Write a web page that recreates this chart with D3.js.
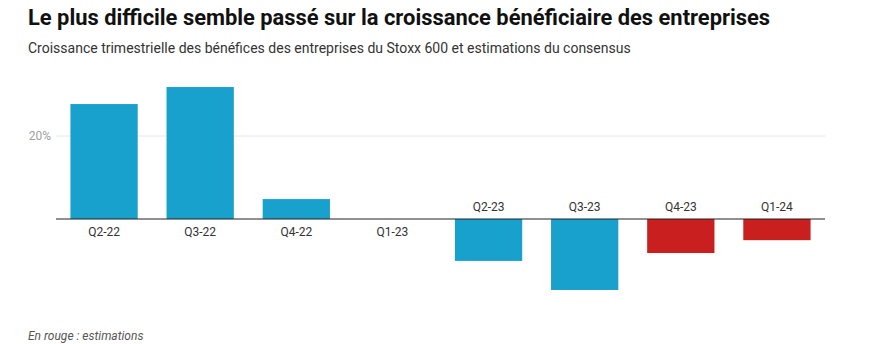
<!DOCTYPE html>
<html><head><meta charset="utf-8">
<script src="https://cdn.jsdelivr.net/npm/d3@7"></script>
<style>
body{margin:0;background:#fff;font-family:Roboto,sans-serif;}
</style></head><body>
<svg id="c" width="874" height="344"></svg>
<script>
const categories = ["Q2-22","Q3-22","Q4-22","Q1-23","Q2-23","Q3-23","Q4-23","Q1-24"];
const values = [27.7, 31.8, 4.8, 0, -10.1, -17.1, -8.2, -5.1];
const estimate = [false,false,false,false,false,false,true,true];
const yTicks = [20];

const svg = d3.select("#c");
svg.append("text").attr("x",28).attr("y",25).attr("font-size",21.9).attr("font-weight",700).attr("fill","#111")
  .text("Le plus difficile semble passé sur la croissance bénéficiaire des entreprises");
svg.append("text").attr("x",28).attr("y",53).attr("font-size",14).attr("fill","#333")
  .text("Croissance trimestrielle des bénéfices des entreprises du Stoxx 600 et estimations du consensus");
svg.append("text").attr("x",28).attr("y",340).attr("font-size",12).attr("font-style","italic").attr("fill","#555")
  .text("En rouge : estimations");

const x = d3.scaleBand().domain(categories).range([56,825]).paddingInner(0.3).paddingOuter(0.15);
const y = d3.scaleLinear().domain([0,20]).range([219,136]);

const grid = svg.append("g");
grid.selectAll("line").data(yTicks).join("line")
  .attr("x1",56).attr("x2",825).attr("y1",d=>y(d)).attr("y2",d=>y(d))
  .attr("stroke","#e6e6e6").attr("stroke-width",1);
grid.selectAll("text").data(yTicks).join("text")
  .attr("x",51).attr("y",d=>y(d)+4).attr("text-anchor","end").attr("font-size",12).attr("fill","#a0a0a0")
  .text(d=>d+"%");

svg.append("g").selectAll("rect").data(values).join("rect")
  .attr("x",(d,i)=>x(categories[i])).attr("width",x.bandwidth())
  .attr("y",d=>Math.min(y(d),y(0))).attr("height",d=>Math.abs(y(d)-y(0)))
  .attr("fill",(d,i)=>estimate[i]?"#c91f1f":"#19a1cd");

svg.append("line").attr("x1",56).attr("x2",825).attr("y1",y(0)).attr("y2",y(0)).attr("stroke","#222").attr("stroke-width",1.2);

svg.append("g").selectAll("text").data(values).join("text")
  .attr("x",(d,i)=>x(categories[i])+x.bandwidth()/2)
  .attr("y",d=>d<0? y(0)-8 : y(0)+17)
  .attr("text-anchor","middle").attr("font-size",12).attr("fill","#333")
  .text((d,i)=>categories[i]);
</script></body></html>
